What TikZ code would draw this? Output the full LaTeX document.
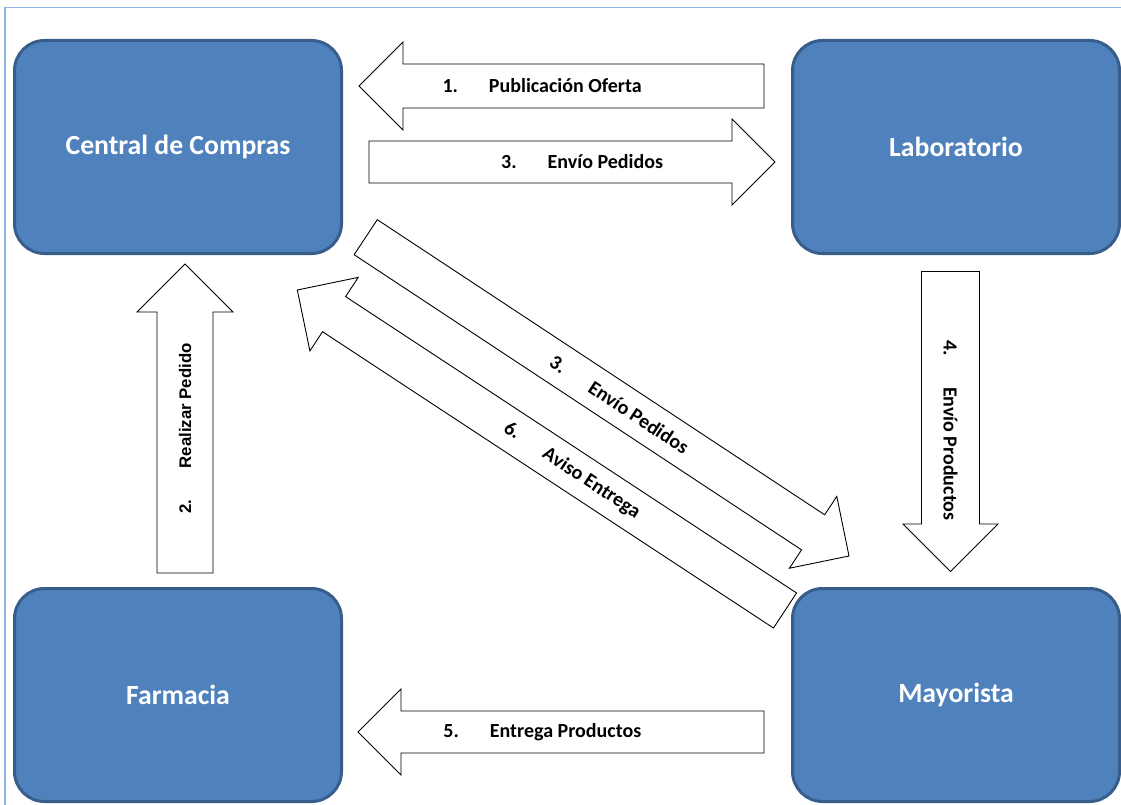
\documentclass[tikz,border=0pt]{standalone}
\usepackage{fontspec}
\setmainfont{Carlito}
\newfontfamily\arialfont{Liberation Sans}
\usetikzlibrary{positioning,calc}
\definecolor{boxfill}{RGB}{79,129,189}
\definecolor{boxline}{RGB}{56,93,138}
\definecolor{framecol}{RGB}{141,180,226}
\newcommand{\tabgap}{\hspace{31pt}}

\begin{document}
\begin{tikzpicture}[x=1pt,y=-1pt,
      box/.style={draw=boxline,fill=boxfill,line width=3pt,rounded corners=30pt,
        minimum width=327pt,minimum height=213pt,text=white,
        font=\fontsize{27.7}{32}\selectfont\bfseries},
      shaft half/.store in=\shafthalf,head half/.store in=\headhalf,
      shaft half=21pt,head half=43pt,
      blockarrow/.style={draw,fill=white,line width=.9pt,to path={
        ($(\tikztostart)!\shafthalf!90:(\tikztotarget)$)
        -- ($(\tikztotarget)!\headhalf!(\tikztostart)!\shafthalf!90:(\tikztotarget)$)
        -- ($(\tikztotarget)!\headhalf!(\tikztostart)!\headhalf!90:(\tikztotarget)$)
        -- (\tikztotarget)
        -- ($(\tikztotarget)!\headhalf!(\tikztostart)!\headhalf!-90:(\tikztotarget)$)
        -- ($(\tikztotarget)!\headhalf!(\tikztostart)!\shafthalf!-90:(\tikztotarget)$)
        -- ($(\tikztostart)!\shafthalf!-90:(\tikztotarget)$) -- cycle}},
      lbl/.style={font=\fontsize{20}{24}\selectfont\bfseries}]
    \useasboundingbox (0,0) rectangle (1121,805);
    \draw[framecol,line width=1.5pt] (5,805) -- (5,7.5) -- (1121,7.5);

    \node[box] (cc) at (178,147) {Central de Compras};
    \node[box,right=448pt of cc] (lab) {Laboratorio};
    \node[box,below=332pt of cc] (farm) {Farmacia};
    \node[box,below=332pt of lab] (may) {Mayorista};

    % ends of the block arrows
    \coordinate (t1) at (764,86);     \coordinate (p1) at (359,86);
    \coordinate (t2) at (185,573);    \coordinate (p2) at (185,264);
    \coordinate (t3) at (369,162);    \coordinate (p3) at (775,162);
    \coordinate (t3b) at (365.7,237.2); \coordinate (p3b) at (849,556);
    \coordinate (t4) at (950.5,271.5); \coordinate (p4) at (950.5,571.5);
    \coordinate (t5) at (764,732);    \coordinate (p5) at (358,732);
    \coordinate (t6) at (785,610.5);  \coordinate (p6) at (297.3,290);

    \draw[blockarrow,shaft half=22pt,head half=44pt] (t1) to (p1);
    \draw[blockarrow,shaft half=28pt,head half=48pt] (t2) to (p2);
    \draw[blockarrow] (t3) to (p3);
    \draw[blockarrow] (t3b) to (p3b);
    \draw[blockarrow,shaft half=29pt,head half=47.5pt] (t4) to (p4);
    \draw[blockarrow] (t5) to (p5);
    \draw[blockarrow,head half=44pt] (t6) to (p6);

    \node[lbl] (l1) at ($(t1)!.548!(p1)$) {1.\tabgap Publicación Oferta};
    \node[lbl,rotate=90,font=\arialfont\fontsize{16.8}{20}\selectfont\bfseries]
      (l2) at ($(t2)!.468!(p2)$) {2.\tabgap Realizar Pedido};
    \node[lbl] (l3) at ($(t3)!.525!(p3)$) {3.\tabgap Envío Pedidos};
    \node[lbl,rotate=-33.4] (l3b) at ($(t3b)!.525!(p3b)$) {3.\tabgap Envío Pedidos};
    \node[lbl,rotate=-90] (l4) at ($(t4)!.53!(p4)$) {4.\tabgap Envío Productos};
    \node[lbl] (l5) at ($(t5)!.546!(p5)$) {5.\tabgap Entrega Productos};
    \node[lbl,rotate=-33.4] (l6) at ($(t6)!.437!(p6)$) {6.\tabgap Aviso Entrega};
\end{tikzpicture}
\end{document}
